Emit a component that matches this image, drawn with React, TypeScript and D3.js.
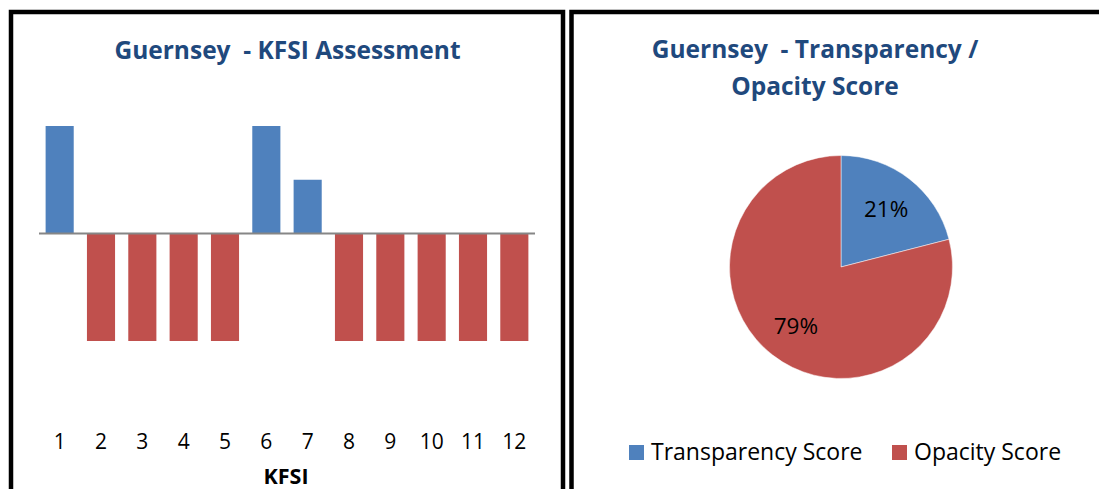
import React from "react";
import * as d3 from "d3";

const kfsiCategories = ["1", "2", "3", "4", "5", "6", "7", "8", "9", "10", "11", "12"];
const kfsiValues = [1, -1, -1, -1, -1, 1, 0.5, -1, -1, -1, -1, -1];
const pieLabels = ["Transparency Score", "Opacity Score"];
const pieValues = [21, 79];

const BLUE = "#4F81BD";
const RED = "#C0504D";
const TITLE = "#1F497D";
const FONT = "'Open Sans', 'Liberation Sans', sans-serif";

export default function App() {
  const x = d3.scaleBand<string>().domain(kfsiCategories).range([39, 535]).paddingInner(0.32).paddingOuter(0.16);
  const y = d3.scaleLinear().domain([-1, 1]).range([341, 126]);
  const zeroY = y(0);

  const pie = d3.pie<number>().sort(null).value((d) => d)(pieValues);
  const cx = 841, cy = 267, r = 111.5;
  const arc = d3.arc<d3.PieArcDatum<number>>().innerRadius(0).outerRadius(r);
  const labelArc = d3.arc<d3.PieArcDatum<number>>().innerRadius(r * 0.66).outerRadius(r * 0.66);
  const total = d3.sum(pieValues);

  const legendX = [629, 892];

  return (
    <svg width={1099} height={489} style={{ position: "absolute", left: 0, top: 0, background: "#fff" }} fontFamily={FONT}>
      <rect x={0} y={0} width={1099} height={489} fill="#fff" />
      {/* left panel */}
      <path d="M11,489 V12 H563 V489" fill="none" stroke="#000" strokeWidth={4.5} />
      {/* right panel */}
      <path d="M571.5,489 V12 H1110" fill="none" stroke="#000" strokeWidth={4.5} />

      <text x={287.5} y={59} textAnchor="middle" fontWeight="bold" fontSize={24.5} fill={TITLE} style={{ whiteSpace: "pre" }}>
        {"Guernsey  - KFSI Assessment"}
      </text>

      {kfsiValues.map((v, i) => (
        <rect
          key={i}
          x={x(kfsiCategories[i])}
          width={x.bandwidth()}
          y={Math.min(y(v), zeroY)}
          height={Math.abs(y(v) - zeroY)}
          fill={v >= 0 ? BLUE : RED}
        />
      ))}
      <line x1={39} x2={535} y1={zeroY} y2={zeroY} stroke="#868686" strokeWidth={2} />

      {kfsiCategories.map((c) => (
        <text key={c} x={(x(c) as number) + x.bandwidth() / 2} y={449} textAnchor="middle" fontSize={21} fill="#000">
          {c}
        </text>
      ))}
      <text x={286} y={484} textAnchor="middle" fontWeight="bold" fontSize={21.5} fill="#000">
        KFSI
      </text>

      <text textAnchor="middle" fontWeight="bold" fontSize={24.5} fill={TITLE} style={{ whiteSpace: "pre" }}>
        <tspan x={815} y={58}>{"Guernsey  - Transparency /"}</tspan>
        <tspan x={815} y={95}>Opacity Score</tspan>
      </text>

      <g transform={`translate(${cx},${cy})`}>
        {pie.map((p, i) => (
          <path key={i} d={arc(p) as string} fill={i === 0 ? BLUE : RED} stroke="#fff" strokeWidth={0.5} />
        ))}
        {pie.map((p, i) => {
          const [lx, ly] = labelArc.centroid(p);
          return (
            <text key={"l" + i} x={lx} y={ly} textAnchor="middle" dominantBaseline="central" fontSize={22.5} fill="#000">
              {Math.round((p.value / total) * 100) + "%"}
            </text>
          );
        })}
      </g>

      {pieLabels.map((l, i) => (
        <g key={l}>
          <rect x={legendX[i]} y={445} width={15} height={15} fill={i === 0 ? BLUE : RED} />
          <text x={legendX[i] + 22} y={460} fontSize={23} fill="#000">
            {l}
          </text>
        </g>
      ))}
    </svg>
  );
}
